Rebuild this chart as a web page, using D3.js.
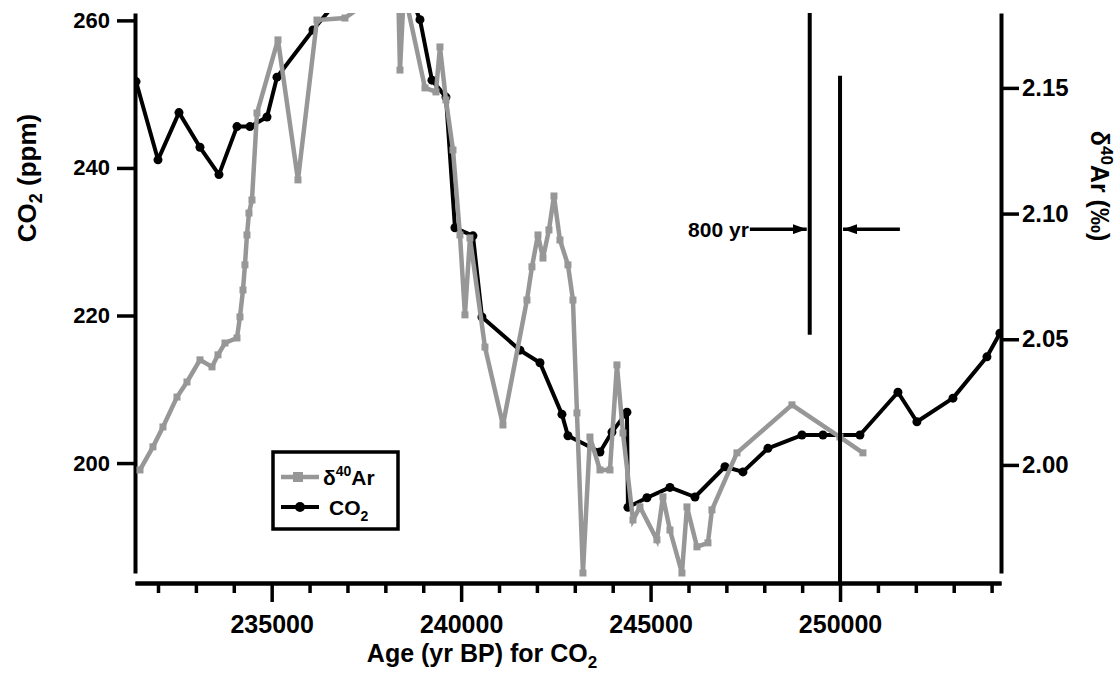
<!DOCTYPE html>
<html>
<head>
<meta charset="utf-8">
<script src="https://cdn.jsdelivr.net/npm/d3@7"></script>
<style>
  body { margin: 0; background: #fff; }
  text { font-family: "Liberation Sans", Arial, sans-serif; }
</style>
</head>
<body>
<div class="chart1"></div>
<script>
// CO2 record (black, left axis)
var co2Age = [231420, 232000, 232554, 233108, 233609, 234084, 234427, 234876, 235140, 236090,
  236803, 238650, 238914, 239230, 239600, 239837, 240312, 240550, 241553, 242081,
  242661, 242819, 243664, 243981, 244376, 244403, 244904, 245511, 246171, 246963,
  247438, 248097, 248995, 249549, 250525, 251528, 252029, 252980, 253877, 254220];
var co2Ppm = [251.7, 241.1, 247.5, 242.8, 239.1, 245.6, 245.6, 246.9, 252.3, 258.7,
  263.1, 263.5, 260.1, 251.9, 249.6, 231.9, 230.8, 219.8, 215.3, 213.6,
  206.6, 203.7, 201.5, 204.2, 206.9, 194.0, 195.3, 196.7, 195.4, 199.5,
  198.8, 202.0, 203.8, 203.8, 203.8, 209.6, 205.6, 208.8, 214.4, 217.6];

// delta 40Ar record (grey, right axis)
var arAge = [231524, 231867, 232131, 232501, 232765, 233108, 233425, 233583, 233768, 234084,
  234163, 234243, 234295, 234348, 234401, 234480, 234612, 235166, 235694, 236195,
  236934, 238333, 238386, 238491, 239046, 239336, 239441, 239600, 239785, 239969,
  240101, 240233, 240629, 241104, 241737, 241869, 242028, 242160, 242318, 242450,
  242608, 242819, 242951, 243057, 243215, 243400, 243664, 243928, 244112, 244271,
  244535, 244719, 245168, 245326, 245511, 245828, 245960, 246224, 246514, 246619,
  247279, 248731, 249997, 250604];
var arValue = [1.998, 2.0072, 2.0151, 2.0270, 2.0330, 2.0418, 2.0390, 2.0438, 2.0485, 2.0505,
  2.0589, 2.0696, 2.0796, 2.0915, 2.1002, 2.1054, 2.1400, 2.1691, 2.1134, 2.1770,
  2.1778, 2.1929, 2.1571, 2.1889, 2.1500, 2.1484, 2.1663, 2.1452, 2.1253, 2.0915,
  2.0597, 2.0903, 2.0469, 2.0159, 2.0656, 2.0788, 2.0915, 2.0823, 2.0935, 2.1070,
  2.0895, 2.0796, 2.0656, 2.0207, 1.9570, 2.0111, 1.9980, 1.9980, 2.0398, 2.0127,
  1.9781, 1.9833, 1.9702, 1.9873, 1.9741, 1.9570, 1.9833, 1.9674, 1.9690, 1.9821,
  2.0048, 2.0239, 2.0111, 2.0048];

var xMajorTicks = [235000, 240000, 245000, 250000];
var xMinorTicks = [232000, 233000, 234000, 236000, 237000, 238000, 239000, 241000, 242000,
  243000, 244000, 246000, 247000, 248000, 249000, 251000, 252000, 253000, 254000];
var co2Ticks = [200, 220, 240, 260];
var arTicks = [2.00, 2.05, 2.10, 2.15];

// 800 yr lag annotation, in data units
var lagStart = 249200, lagEnd = 250000;
var lagLineTop = 262, lagLineBottom = 217.4, endLineTop = 252.5;
var arrowLevel = 231.7, arrowLeftFrom = 247620, arrowRightFrom = 251580;

var width = 1120, height = 678;
var plot = { left: 135, right: 1001, top: 13, bottom: 573 };
var axisY = 583;
var font = '"Liberation Sans", Arial, sans-serif';

var xScale = d3.scaleLinear().domain([231393, 254248]).range([plot.left, plot.right]);
var yCo2 = d3.scaleLinear().domain([185.1, 261.0]).range([plot.bottom, plot.top]);
var yAr = d3.scaleLinear().domain([1.957, 2.1798]).range([plot.bottom, plot.top]);

var svg = d3.select('.chart1')
  .append('svg')
  .attr("width", width)
  .attr("height", height);

var defs = svg.append("defs");
defs.append("clipPath").attr("id", "page")
  .append("rect").attr("x", 0).attr("y", 13).attr("width", width).attr("height", height - 13);
defs.append("clipPath").attr("id", "plotArea")
  .append("rect").attr("x", plot.left).attr("y", 0)
  .attr("width", plot.right - plot.left).attr("height", 577);
defs.append("marker").attr("id", "head")
  .attr("markerUnits", "userSpaceOnUse")
  .attr("viewBox", "0 0 14 10").attr("refX", 14).attr("refY", 5)
  .attr("markerWidth", 14).attr("markerHeight", 10).attr("orient", "auto")
  .append("path").attr("d", "M0,0L14,5L0,10Z").attr("fill", "#000");

var chart = svg.append("g").attr("clip-path", "url(#page)");

function styleAxis(g, size) {
  g.select(".domain").attr("stroke-width", 4).attr("stroke", "#000");
  g.selectAll(".tick line").attr("stroke-width", 3.5).attr("stroke", "#000");
  g.selectAll(".tick text")
    .attr("font-family", font)
    .attr("font-size", size)
    .attr("font-weight", "bold")
    .attr("fill", "#000");
}

/* Axes */

chart.append("g")
  .attr("transform", "translate(0," + axisY + ")")
  .call(d3.axisBottom(xScale).tickValues(xMinorTicks).tickSize(10).tickSizeOuter(0).tickFormat(""))
  .call(styleAxis, 24);

chart.append("g")
  .attr("transform", "translate(0," + axisY + ")")
  .call(d3.axisBottom(xScale).tickValues(xMajorTicks).tickSize(19).tickPadding(13)
    .tickSizeOuter(0).tickFormat(d3.format("d")))
  .call(styleAxis, 25);

chart.append("g")
  .attr("transform", "translate(" + plot.left + ",0)")
  .call(d3.axisLeft(yCo2).tickValues(co2Ticks).tickSize(18).tickPadding(7).tickSizeOuter(0))
  .call(styleAxis, 22);

chart.append("g")
  .attr("transform", "translate(" + plot.right + ",0)")
  .call(d3.axisRight(yAr).tickValues(arTicks).tickSize(18).tickPadding(3)
    .tickSizeOuter(0).tickFormat(d3.format(".2f")))
  .call(styleAxis, 24);

/* Axis titles */

var xTitle = chart.append("text")
  .attr("x", 482).attr("y", 662)
  .attr("text-anchor", "middle")
  .attr("font-size", 25).attr("font-weight", "bold");
xTitle.append("tspan").text("Age (yr BP) for CO");
xTitle.append("tspan").attr("font-size", 17).attr("dy", 6).text("2");

var yTitle = chart.append("text")
  .attr("transform", "translate(36,178) rotate(-90)")
  .attr("text-anchor", "middle")
  .attr("font-size", 26).attr("font-weight", "bold");
yTitle.append("tspan").text("CO");
yTitle.append("tspan").attr("font-size", 18).attr("dy", 6).text("2");
yTitle.append("tspan").attr("dy", -6).text(" (ppm)");

var rTitle = chart.append("text")
  .attr("transform", "translate(1091,186) rotate(90)")
  .attr("text-anchor", "middle")
  .attr("font-size", 25).attr("font-weight", "bold");
rTitle.append("tspan").text("\u03b4");
rTitle.append("tspan").attr("font-size", 17).attr("dy", -10).text("40");
rTitle.append("tspan").attr("dy", 10).text("Ar (\u2030)");

/* Data */

var co2Data = co2Age.map(function (d, i) { return { age: d, value: co2Ppm[i] }; });
var arData = arAge.map(function (d, i) { return { age: d, value: arValue[i] }; });

var co2Line = d3.line()
  .x(function (d) { return xScale(d.age); })
  .y(function (d) { return yCo2(d.value); });

var arLine = d3.line()
  .x(function (d) { return xScale(d.age); })
  .y(function (d) { return yAr(d.value); });

var series = chart.append("g").attr("clip-path", "url(#plotArea)");

series.append("path")
  .attr("d", co2Line(co2Data))
  .attr("fill", "none")
  .attr("stroke", "#000")
  .attr("stroke-width", 4)
  .attr("stroke-linejoin", "round");

series.selectAll(".co2dot")
  .data(co2Data)
  .enter().append("circle")
  .attr("class", "co2dot")
  .attr("cx", function (d) { return xScale(d.age); })
  .attr("cy", function (d) { return yCo2(d.value); })
  .attr("r", 4.5)
  .attr("fill", "#000");

series.append("path")
  .attr("d", arLine(arData))
  .attr("fill", "none")
  .attr("stroke", "#979797")
  .attr("stroke-width", 4.5)
  .attr("stroke-linejoin", "miter");

series.selectAll(".ardot")
  .data(arData)
  .enter().append("rect")
  .attr("class", "ardot")
  .attr("x", function (d) { return xScale(d.age) - 3.5; })
  .attr("y", function (d) { return yAr(d.value) - 3.5; })
  .attr("width", 7).attr("height", 7)
  .attr("fill", "#979797");

/* 800 yr annotation */

var ann = chart.append("g");
ann.append("line")
  .attr("x1", xScale(lagStart)).attr("x2", xScale(lagStart))
  .attr("y1", yCo2(lagLineTop)).attr("y2", yCo2(lagLineBottom))
  .attr("stroke", "#000").attr("stroke-width", 4);
ann.append("line")
  .attr("x1", xScale(lagEnd)).attr("x2", xScale(lagEnd))
  .attr("y1", yCo2(endLineTop)).attr("y2", axisY)
  .attr("stroke", "#000").attr("stroke-width", 4);
ann.append("line")
  .attr("x1", xScale(arrowLeftFrom)).attr("x2", xScale(lagStart) - 3)
  .attr("y1", yCo2(arrowLevel)).attr("y2", yCo2(arrowLevel))
  .attr("stroke", "#000").attr("stroke-width", 3.5)
  .attr("marker-end", "url(#head)");
ann.append("line")
  .attr("x1", xScale(arrowRightFrom)).attr("x2", xScale(lagEnd) + 3)
  .attr("y1", yCo2(arrowLevel)).attr("y2", yCo2(arrowLevel))
  .attr("stroke", "#000").attr("stroke-width", 3.5)
  .attr("marker-end", "url(#head)");
ann.append("text")
  .attr("x", xScale(arrowLeftFrom) - 1).attr("y", yCo2(arrowLevel) + 8)
  .attr("text-anchor", "end")
  .attr("font-size", 21).attr("font-weight", "bold")
  .text("800 yr");

/* Legend */

var legend = chart.append("g").attr("transform", "translate(273,452)");
legend.append("rect")
  .attr("width", 125).attr("height", 77)
  .attr("fill", "#fff").attr("stroke", "#000").attr("stroke-width", 3.5);

legend.append("line")
  .attr("x1", 8).attr("x2", 46).attr("y1", 25).attr("y2", 25)
  .attr("stroke", "#979797").attr("stroke-width", 4.5);
legend.append("rect")
  .attr("x", 20).attr("y", 20).attr("width", 10).attr("height", 10)
  .attr("fill", "#979797");
var lt1 = legend.append("text")
  .attr("x", 50).attr("y", 33)
  .attr("font-size", 21).attr("font-weight", "bold");
lt1.append("tspan").text("\u03b4");
lt1.append("tspan").attr("font-size", 14).attr("dy", -9).text("40");
lt1.append("tspan").attr("dy", 9).text("Ar");

legend.append("line")
  .attr("x1", 8).attr("x2", 46).attr("y1", 55).attr("y2", 55)
  .attr("stroke", "#000").attr("stroke-width", 4);
legend.append("circle")
  .attr("cx", 27).attr("cy", 55).attr("r", 5)
  .attr("fill", "#000");
var lt2 = legend.append("text")
  .attr("x", 56).attr("y", 63)
  .attr("font-size", 21).attr("font-weight", "bold");
lt2.append("tspan").text("CO");
lt2.append("tspan").attr("font-size", 14).attr("dy", 6).text("2");
</script>
</body>
</html>
